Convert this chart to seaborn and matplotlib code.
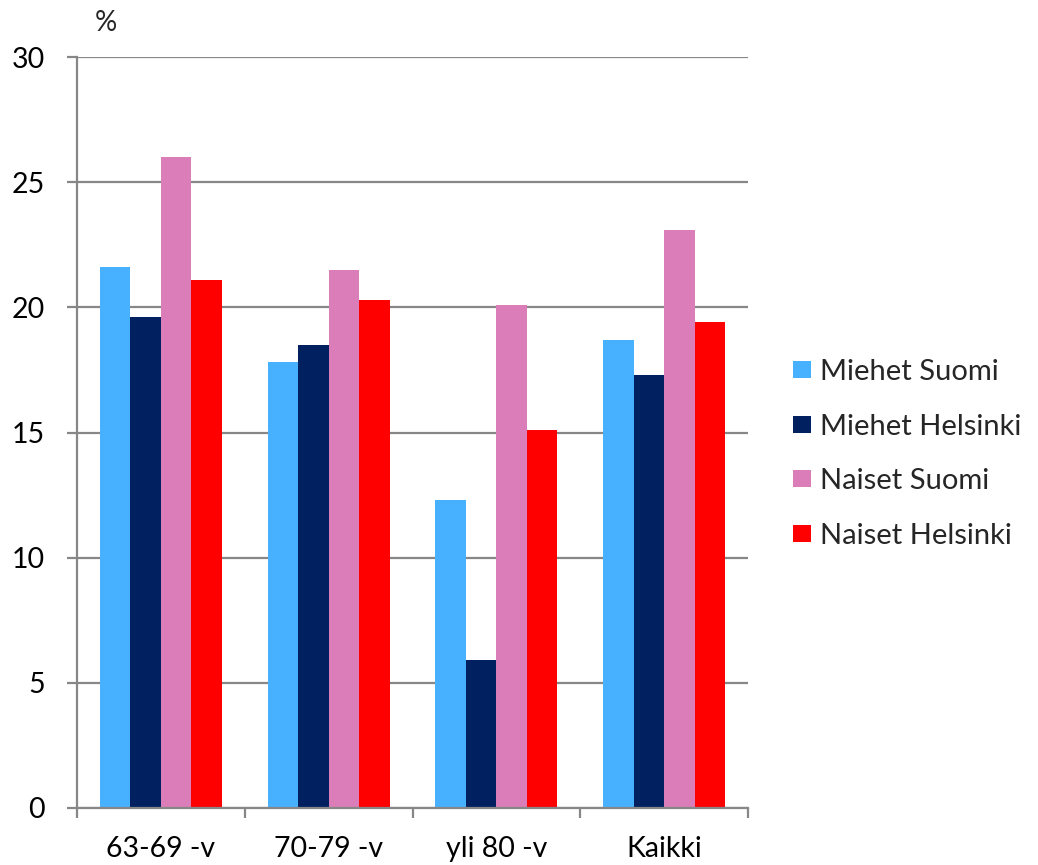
import matplotlib
matplotlib.use("Agg")
import matplotlib.pyplot as plt
import seaborn as sns
import pandas as pd
import numpy as np

categories = ["63-69 -v", "70-79 -v", "yli 80 -v", "Kaikki"]
series = ["Miehet Suomi", "Miehet Helsinki", "Naiset Suomi", "Naiset Helsinki"]
miehet_suomi = [21.6, 17.8, 12.3, 18.7]
miehet_helsinki = [19.6, 18.5, 5.9, 17.3]
naiset_suomi = [26.0, 21.5, 20.1, 23.1]
naiset_helsinki = [21.1, 20.3, 15.1, 19.4]
colors = ["#47B0FF", "#002060", "#DB7DB8", "#FF0000"]
yticks = [0, 5, 10, 15, 20, 25, 30]

rows = []
for s, vals in zip(series, [miehet_suomi, miehet_helsinki, naiset_suomi, naiset_helsinki]):
    for c, v in zip(categories, vals):
        rows.append({"cat": c, "series": s, "value": v})
df = pd.DataFrame(rows)

sns.set_theme(style="white")
plt.rcParams['font.family'] = ['Lato', 'DejaVu Sans']

fig = plt.figure(figsize=(10.38, 8.65), dpi=100)
ax = fig.add_axes([77/1038, 1-808/865, (748-77)/1038, (808-57)/865])
sns.barplot(data=df, x="cat", y="value", hue="series", palette=colors,
            width=0.727, gap=0, saturation=1, ax=ax, zorder=2, edgecolor="none")

ax.set_ylim(0, 30)
ax.set_xlim(-0.5, 3.5)
ax.set_yticks(yticks)
ax.set_yticklabels([str(t) for t in yticks])
ax.yaxis.grid(True, color="#878787", linewidth=1.6, zorder=0)
ax.set_axisbelow(True)
for side in ["top", "right"]:
    ax.spines[side].set_visible(False)
ax.spines["left"].set_color("#878787")
ax.spines["left"].set_linewidth(1.6)
ax.spines["bottom"].set_color("#878787")
ax.spines["bottom"].set_linewidth(1.6)
ax.tick_params(axis="y", left=True, length=7, width=1.6, color="#878787",
               pad=16, labelsize=20.5, labelcolor="black")
ax.set_xticks(np.arange(len(categories)))
ax.set_xticks(np.arange(-0.5, len(categories)), minor=True)
ax.tick_params(axis="x", which="major", length=0, pad=20, labelsize=20.5, labelcolor="black")
ax.tick_params(axis="x", which="minor", bottom=True, length=7, width=1.6, color="#878787")
ax.set_xlabel("")
ax.set_ylabel("")
ax.text(0.026, 1.028, "%", transform=ax.transAxes, fontsize=20, ha="left", va="bottom")

leg = ax.legend(loc="center left", bbox_to_anchor=(793/1038, 1-454/865),
                bbox_transform=fig.transFigure, frameon=False,
                fontsize=21, handlelength=0.63, handleheight=0.52, handletextpad=0.3,
                labelspacing=0.98, borderaxespad=0, borderpad=0)

fig.savefig("out.png", dpi=100)
